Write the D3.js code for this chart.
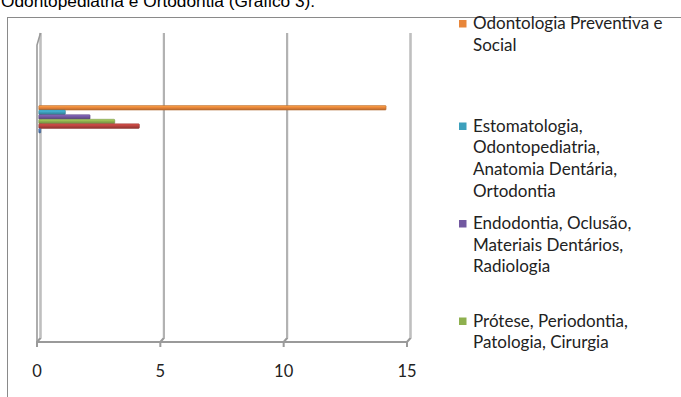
<!DOCTYPE html>
<html>
<head>
<meta charset="utf-8">
<script src="https://cdn.jsdelivr.net/npm/d3@7"></script>
<style>
  html, body { margin: 0; padding: 0; background: #fff; }
  svg { display: block; }
</style>
</head>
<body>
<svg id="chart" width="681" height="397"></svg>
<script>
// Number of course units per group of disciplines (single category, 3D clustered bars)
const seriesNames = [
  "Odontologia Preventiva e Social",
  "Estomatologia, Odontopediatria, Anatomia Dentária, Ortodontia",
  "Endodontia, Oclusão, Materiais Dentários, Radiologia",
  "Prótese, Periodontia, Patologia, Cirurgia",
  "Série 5",
  "Série 6"
];
const seriesValues = [14, 1, 2, 3, 4, 0];
const seriesColors = ["#E8863A", "#3DA0BC", "#7258A0", "#8EB04E", "#B8433F", "#4A78B8"];
const legendLines = [
  ["Odontologia Preventiva e", "Social"],
  ["Estomatologia,", "Odontopediatria,", "Anatomia Dentária,", "Ortodontia"],
  ["Endodontia, Oclusão,", "Materiais Dentários,", "Radiologia"],
  ["Prótese, Periodontia,", "Patologia, Cirurgia"]
];
const xTicks = [0, 5, 10, 15];
const titleText = "Odontopediatria e Ortodontia (Gráfico 3).";

const svg = d3.select("#chart");

// Paragraph text above the chart box (runs off the top of the page)
svg.append("text")
  .attr("x", 1).attr("y", 7)
  .attr("font-family", "Liberation Sans, Arial, sans-serif")
  .attr("font-size", 17.3)
  .attr("fill", "#000")
  .text(titleText);

// Chart area border
svg.append("rect")
  .attr("x", 7.5).attr("y", 17.5)
  .attr("width", 700).attr("height", 400)
  .attr("fill", "#fff")
  .attr("stroke", "#8a8a8a").attr("stroke-width", 1);

// Plot geometry: front (floor) scale and 3D depth offset of the back wall
const x = d3.scaleLinear().domain([0, 15]).range([37, 407]);
const depthX = 3.5, depthY = -4;
const wallTop = 37, floorY = 342;

const grid = svg.append("g");
// Back wall gridlines with their floor connection and front tick
xTicks.forEach(t => {
  const fx = x(t), bx = fx + depthX;
  grid.append("path")
    .attr("d", `M${bx},${wallTop + depthY} L${bx},${floorY + depthY} L${fx},${floorY} L${fx},${floorY + 5}`)
    .attr("fill", "none")
    .attr("stroke", "#9a9a9a").attr("stroke-width", 2);
  grid.append("line")
    .attr("x1", bx).attr("x2", bx)
    .attr("y1", wallTop + depthY).attr("y2", floorY + depthY)
    .attr("stroke", "#d8d8d8").attr("stroke-width", 0.6);
});
// Side wall (left) front edge
grid.append("path")
  .attr("d", `M${x(0)},${floorY} L${x(0)},${wallTop + 8} L${x(0) + depthX},${wallTop + depthY}`)
  .attr("fill", "none").attr("stroke", "#9a9a9a").attr("stroke-width", 1.6);
// Floor front edge
grid.append("line")
  .attr("x1", x(0)).attr("x2", x(15))
  .attr("y1", floorY).attr("y2", floorY)
  .attr("stroke", "#9a9a9a").attr("stroke-width", 2);

// Bars: one cluster, series stacked in a band
const yBand = d3.scaleBand().domain(seriesNames).range([105.5, 133]).paddingInner(0);
const defs = svg.append("defs");
seriesColors.forEach((c, i) => {
  const g = defs.append("linearGradient").attr("id", "bar" + i)
    .attr("x1", 0).attr("y1", 0).attr("x2", 0).attr("y2", 1);
  const base = d3.color(c);
  g.append("stop").attr("offset", "0%").attr("stop-color", base.brighter(0.6));
  g.append("stop").attr("offset", "45%").attr("stop-color", base);
  g.append("stop").attr("offset", "100%").attr("stop-color", base.darker(0.7));
});
const bars = svg.append("g");
seriesNames.forEach((name, i) => {
  const v = seriesValues[i];
  const x0 = x(0) + depthX / 2, x1 = x(v) + depthX / 2;
  bars.append("rect")
    .attr("x", x0)
    .attr("y", yBand(name))
    .attr("width", Math.max(x1 - x0, 0) + 2)
    .attr("height", yBand.bandwidth())
    .attr("rx", 0.8)
    .attr("fill", `url(#bar${i})`)
    .attr("stroke", d3.color(seriesColors[i]).darker(0.8))
    .attr("stroke-width", 0.5);
});

// X axis labels
svg.append("g").selectAll("text")
  .data(xTicks).join("text")
  .attr("x", d => x(d))
  .attr("y", 377)
  .attr("text-anchor", "middle")
  .attr("font-family", "Lato, sans-serif")
  .attr("font-size", 16.5)
  .attr("fill", "#222")
  .text(d => d);

// Legend (entries beyond the box edge are not visible)
const legendTop = [29, 131.5, 229, 326.5];
const legend = svg.append("g");
legendLines.forEach((lines, i) => {
  legend.append("rect")
    .attr("x", 459).attr("y", legendTop[i] - 9)
    .attr("width", 7.5).attr("height", 7.5)
    .attr("fill", seriesColors[i]);
  const t = legend.append("text")
    .attr("font-family", "Lato, sans-serif")
    .attr("font-size", 17)
    .attr("fill", "#222");
  lines.forEach((ln, j) => {
    t.append("tspan").attr("x", 473).attr("y", legendTop[i] + j * 21.7).text(ln);
  });
});
</script>
</body>
</html>
